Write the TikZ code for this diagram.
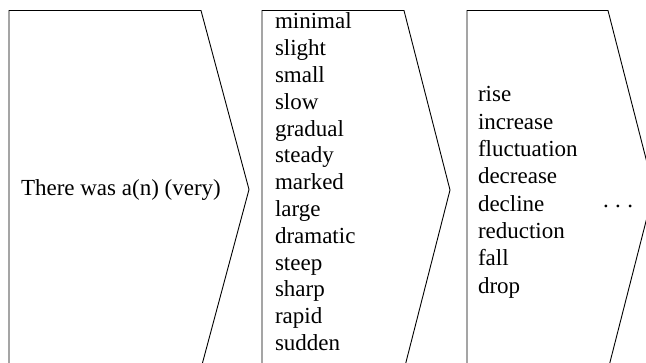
\documentclass[tikz,border=0pt]{standalone}
\usepackage{fontspec}
\setmainfont{Liberation Serif}
\tikzset{
  chev/.style={draw=black, line width=0.9pt, line join=miter},
  word/.style={anchor=base west, inner sep=0pt, outer sep=0pt, font=\fontsize{23}{27}\selectfont}
}
\begin{document}
\begin{tikzpicture}[x=1pt,y=-1pt]
\useasboundingbox (0,0) rectangle (646,363);
\clip (0,0) rectangle (646,363);
% chevron shapes
\draw[chev] (9,370) -- (9,10.5) -- (201,10.5) -- (249,189.5) -- (201,368.5);
\draw[chev] (262,370) -- (262,10.5) -- (404,10.5) -- (450,190) -- (404,370);
\draw[chev] (467,370) -- (467,10.5) -- (608,10.5) -- (654,190) -- (608,370);
% first box
\node[word] (t) at (21,196) {There was a(n) (very)};
% adjectives
\foreach \w [count=\i from 0] in {minimal,slight,small,slow,gradual,steady,marked,large,dramatic,steep,sharp,rapid,sudden}
  \node[word] (a\i) at (275,{29+26.8*\i}) {\w};
% nouns
\foreach \w [count=\i from 0] in {rise,increase,fluctuation,decrease,decline,reduction,fall,drop}
  \node[word] (n\i) at (478,{102+27.3*\i}) {\w};
\node[word] (dots) at (603,208) {.\hspace{6.5pt}.\hspace{6.5pt}.};
\end{tikzpicture}
\end{document}
